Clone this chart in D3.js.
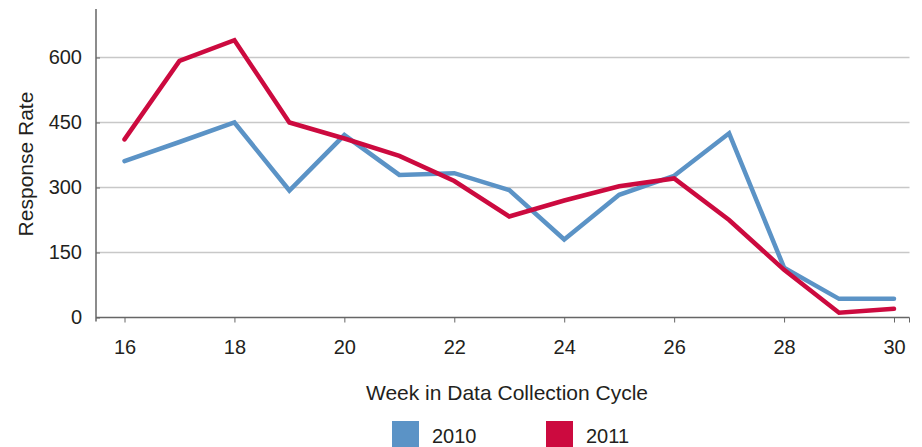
<!DOCTYPE html>
<html><head><meta charset="utf-8">
<script src="https://cdn.jsdelivr.net/npm/d3@7"></script>
<style>body{margin:0;background:#fff;} text{font-family:"Liberation Sans",Arial,sans-serif;fill:#231f20;}</style>
</head><body>
<svg id="c" width="922" height="447"></svg>
<script>
const weeks = [16,17,18,19,20,21,22,23,24,25,26,27,28,29,30];
const series2010 = [361,405,450,293,421,329,333,294,180,283,327,425,115,43,43];
const series2011 = [411,592,640,450,413,373,315,233,270,303,321,225,110,11,20];
const yTicks = [0,150,300,450,600];
const xTicks = [16,18,20,22,24,26,28,30];
const seriesNames = ["2010","2011"];
const colors = ["#5b93c6","#cc0a3f"];

const svg = d3.select("#c");
const x = d3.scaleLinear().domain([16,30]).range([124.5,894]);
const y = d3.scaleLinear().domain([0,600]).range([317.5,57.5]);
const xLeft = 96, xRight = 909.5, yTop = 9;
const FONT = "Liberation Sans, Arial, sans-serif";

// gridlines
svg.append("g").selectAll("line").data(yTicks.filter(d=>d>0)).join("line")
  .attr("x1",xLeft).attr("x2",xRight).attr("y1",d=>y(d)).attr("y2",d=>y(d))
  .attr("stroke","#c8c8c8").attr("stroke-width",1.3);

// y axis
const yAxis = svg.append("g").attr("transform",`translate(${xLeft},0)`)
  .call(d3.axisLeft(y).tickValues(yTicks).tickSize(6).tickPadding(8));
yAxis.select(".domain").remove();
yAxis.selectAll(".tick line").attr("stroke","#666").attr("x2",0).attr("x1",4);
yAxis.selectAll(".tick text").style("font-size","20px").style("font-family",FONT).attr("fill","#231f20").attr("x",-14);
svg.append("line").attr("x1",xLeft).attr("x2",xLeft).attr("y1",yTop).attr("y2",y(0)+4)
  .attr("stroke","#666").attr("stroke-width",1.5);

// x axis
const xAxis = svg.append("g").attr("transform",`translate(0,${y(0)})`)
  .call(d3.axisBottom(x).tickValues(xTicks).tickSize(5));
xAxis.select(".domain").remove();
xAxis.selectAll(".tick line").attr("stroke","#666");
xAxis.selectAll(".tick text").style("font-size","20px").style("font-family",FONT).attr("fill","#231f20")
  .attr("y",36.5).attr("dy",0);
svg.append("line").attr("x1",xLeft).attr("x2",xRight).attr("y1",y(0)).attr("y2",y(0))
  .attr("stroke","#666").attr("stroke-width",1.5);
svg.append("line").attr("x1",xRight).attr("x2",xRight).attr("y1",y(0)).attr("y2",y(0)+5)
  .attr("stroke","#666").attr("stroke-width",1);

// lines
const line = d3.line().x((d,i)=>x(weeks[i])).y(d=>y(d));
[series2010, series2011].forEach((s,k)=>{
  svg.append("path").datum(s).attr("d",line).attr("fill","none")
    .attr("stroke",colors[k]).attr("stroke-width",4.5)
    .attr("stroke-linejoin","miter").attr("stroke-linecap","round");
});

// axis titles
svg.append("text").attr("transform","translate(33,164) rotate(-90)")
  .attr("text-anchor","middle").style("font-size","21px").text("Response Rate");
svg.append("text").attr("x",507).attr("y",400).attr("text-anchor","middle")
  .style("font-size","21px").text("Week in Data Collection Cycle");

// legend
const legX = [392,546];
seriesNames.forEach((n,k)=>{
  svg.append("rect").attr("x",legX[k]).attr("y",421).attr("width",27).attr("height",26).attr("fill",colors[k]);
  svg.append("text").attr("x",legX[k]+40).attr("y",443).style("font-size","20px").text(n);
});
</script>
</body></html>
